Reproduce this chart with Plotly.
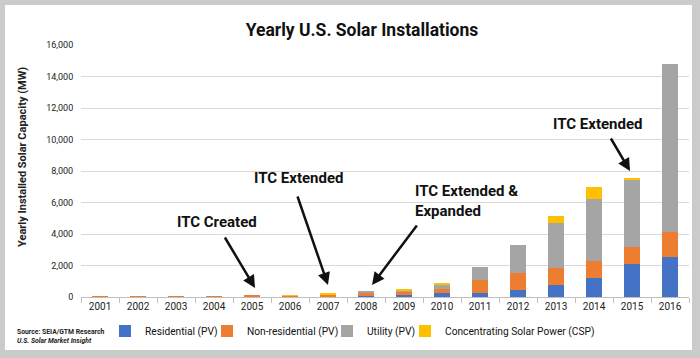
import plotly.graph_objects as go

years = [str(y) for y in range(2001, 2017)]
residential = [5, 10, 15, 20, 25, 25, 50, 80, 150, 250, 250, 470, 740, 1210, 2110, 2560]
non_residential = [5, 10, 20, 35, 50, 70, 100, 190, 210, 280, 850, 1060, 1120, 1060, 1080, 1570]
utility = [0, 0, 0, 0, 0, 0, 10, 60, 80, 260, 780, 1800, 2840, 3940, 4280, 10670]
csp = [0, 0, 0, 0, 0, 30, 60, 0, 60, 90, 0, 0, 445, 760, 100, 0]

series = [
    ("Residential (PV)", residential, "#4472C4"),
    ("Non-residential (PV)", non_residential, "#ED7D31"),
    ("Utility (PV)", utility, "#A5A5A5"),
    ("Concentrating Solar Power (CSP)", csp, "#FFC000"),
]

y_ticks = list(range(0, 16001, 2000))
y_ticklabels = [f"{v:,}" for v in y_ticks]

FONT = "Roboto, Arial, sans-serif"

L, R, T, B = 81, 11, 45, 61
pw, ph = 700 - L - R, 358 - T - B


def px(x):
    return (x - L) / pw


def py(y):
    return (358 - B - y) / ph


legend_names = ["legend2", "legend3", "legend4", "legend5"]
legend_left = [105, 207, 327, 405]

fig = go.Figure()
for (name, vals, color), lg in zip(series, legend_names):
    fig.add_trace(go.Bar(x=years, y=vals, name=name, legend=lg,
                         marker=dict(color=color, line=dict(width=0))))

annotations = []
labels = [
    ("ITC Created", 217, 222, "center"),
    ("ITC Extended", 298, 178, "center"),
    ("ITC Extended &amp;<br>Expanded", 413, 200.5, "left"),
    ("ITC Extended", 597, 124, "center"),
]
for text, x, y, anchor in labels:
    annotations.append(dict(text=f"<b>{text}</b>", x=px(x), y=py(y), xref="paper", yref="paper",
                            xanchor=anchor, yanchor="middle", align="left", showarrow=False,
                            font=dict(family=FONT, size=15, color="#111111")))
arrows = [((255, 288), (224, 236)), ((328, 285), (297, 195)), ((372, 285), (418, 224)), ((630, 171), (610, 137))]
for (tx, ty), (sx, sy) in arrows:
    annotations.append(dict(text="", x=px(tx), y=py(ty), xref="paper", yref="paper",
                            ax=sx - tx, ay=sy - ty, showarrow=True, arrowhead=2, arrowsize=1,
                            arrowwidth=2.5, arrowcolor="#111111"))
annotations.append(dict(text="<b>Source: SEIA/GTM Research</b><br><i><b>U.S. Solar Market Insight</b></i>",
                        x=px(15), y=py(337), xref="paper", yref="paper", xanchor="left", yanchor="middle",
                        align="left", showarrow=False,
                        font=dict(family=FONT, size=6.8, color="#222222")))
# y-axis title
annotations.append(dict(text="<b>Yearly Installed Solar Capacity (MW)</b>", textangle=-90,
                        x=px(22), y=py(157), xref="paper", yref="paper", xanchor="center", yanchor="middle",
                        showarrow=False, font=dict(family=FONT, size=11, color="#222222")))

legend_style = dict(orientation="h", xanchor="left", yanchor="middle",
                    font=dict(family=FONT, size=10.2, color="#111111"), bgcolor="rgba(0,0,0,0)")
legends = {}
for lg, xl in zip(legend_names, legend_left):
    legends[lg] = dict(legend_style, x=px(xl), y=py(331))

fig.update_layout(
    width=700, height=358,
    margin=dict(l=L, r=R, t=T, b=B),
    paper_bgcolor="#cbcbcb",
    plot_bgcolor="white",
    barmode="stack",
    bargap=0.58,
    title=dict(text="<b>Yearly U.S. Solar Installations</b>", x=362 / 700, y=1 - 30 / 358,
               xanchor="center", yanchor="middle", xref="container", yref="container",
               font=dict(family=FONT, size=17.5, color="#111111")),
    xaxis=dict(type="category", showgrid=False, showline=True, linecolor="#bfbfbf", linewidth=1,
               ticks="outside", tickson="boundaries", ticklen=5, tickcolor="#bfbfbf",
               tickfont=dict(family=FONT, size=10, color="#222222"), fixedrange=True),
    yaxis=dict(range=[0, 16000], tickvals=y_ticks, ticktext=y_ticklabels, showgrid=True,
               gridcolor="#d9d9d9", gridwidth=1, zeroline=False, showline=False,
               ticks="outside", ticklen=5, tickcolor="rgba(0,0,0,0)",
               tickfont=dict(family=FONT, size=9, color="#222222"),
               fixedrange=True),
    shapes=[dict(type="rect", xref="paper", yref="paper", x0=px(5), x1=px(692), y0=py(350), y1=py(5),
                 fillcolor="white", line=dict(width=0), layer="below")],
    annotations=annotations,
    **legends,
)

fig.write_html("out.html", config={"displayModeBar": False},
               post_script="document.body.style.margin='0';")
